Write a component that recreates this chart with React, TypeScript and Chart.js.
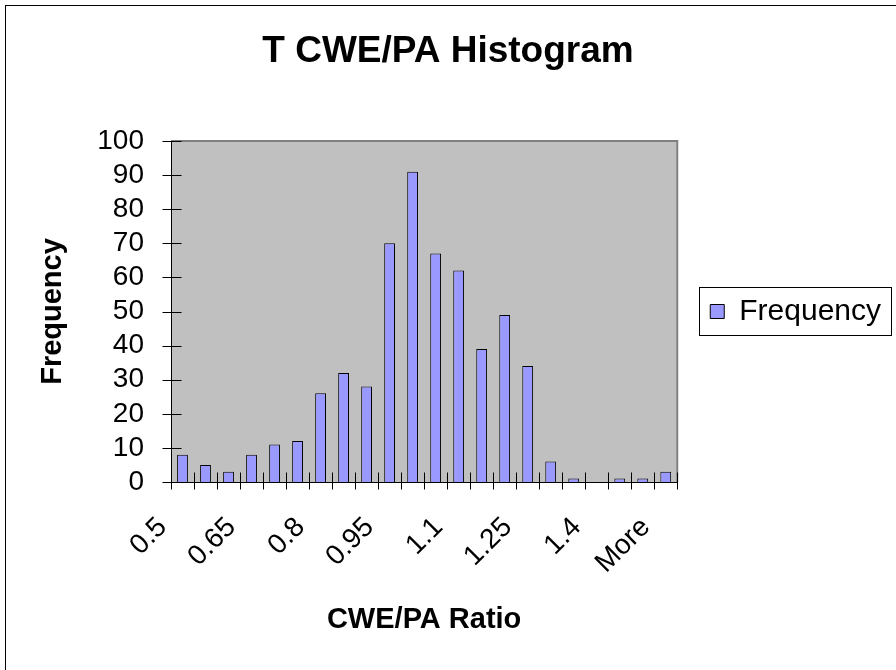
import React, { useEffect, useRef } from 'react';
import { Chart, registerables } from 'chart.js';

Chart.register(...registerables);

// ---- data ----
const bins = ['0.5', '0.55', '0.6', '0.65', '0.7', '0.75', '0.8', '0.85', '0.9', '0.95', '1', '1.05', '1.1', '1.15', '1.2', '1.25', '1.3', '1.35', '1.4', '1.45', '1.5', 'More'];
const frequency = [8, 5, 3, 8, 11, 12, 26, 32, 28, 70, 91, 67, 62, 39, 49, 34, 6, 1, 0, 1, 1, 3];
const shownBinLabels = ['0.5', '0.65', '0.8', '0.95', '1.1', '1.25', '1.4', 'More'];
const yMin = 0;
const yMax = 100;
const yStep = 10;

const chartTitle = 'T CWE/PA Histogram';
const xTitle = 'CWE/PA Ratio';
const yTitle = 'Frequency';
const seriesName = 'Frequency';

const FONT = "'Liberation Sans', Arial, Helvetica, sans-serif";

const excelPlugin = {
  id: 'excelLook',
  beforeDraw(chart: any) {
    const { ctx, chartArea, width, height } = chart;
    ctx.save();
    ctx.fillStyle = '#ffffff';
    ctx.fillRect(0, 0, width, height);
    // outer chart frame
    ctx.strokeStyle = '#000000';
    ctx.lineWidth = 1;
    ctx.strokeRect(5.5, 5.5, width + 20, height + 20);
    // plot area
    ctx.fillStyle = '#C0C0C0';
    ctx.fillRect(chartArea.left, chartArea.top, chartArea.right - chartArea.left, chartArea.bottom - chartArea.top);
    ctx.restore();
  },
  afterDatasetsDraw(chart: any) {
    const { ctx, chartArea } = chart;
    const xs = chart.scales.x;
    const ys = chart.scales.y;
    ctx.save();
    // plot border top/right (gray)
    ctx.strokeStyle = '#808080';
    ctx.lineWidth = 2;
    ctx.beginPath();
    ctx.moveTo(chartArea.left, chartArea.top);
    ctx.lineTo(chartArea.right, chartArea.top);
    ctx.lineTo(chartArea.right, chartArea.bottom);
    ctx.stroke();
    // axes
    ctx.strokeStyle = '#000000';
    ctx.lineWidth = 1;
    const L = Math.round(chartArea.left) + 0.5;
    const B = Math.round(chartArea.bottom) + 0.5;
    ctx.beginPath();
    ctx.moveTo(L, chartArea.top);
    ctx.lineTo(L, B);
    ctx.lineTo(chartArea.right, B);
    ctx.stroke();
    // y cross ticks
    ctx.beginPath();
    ys.ticks.forEach((t: any) => {
      const py = Math.round(ys.getPixelForValue(t.value)) + 0.5;
      ctx.moveTo(L - 9, py);
      ctx.lineTo(L + 10, py);
    });
    // x cross ticks at category boundaries
    const n = bins.length;
    const half = (xs.getPixelForValue(1) - xs.getPixelForValue(0)) / 2;
    for (let i = 0; i <= n; i++) {
      const px = Math.round(i < n ? xs.getPixelForValue(i) - half : xs.getPixelForValue(n - 1) + half) + 0.5;
      ctx.moveTo(px, B - 10);
      ctx.lineTo(px, B + 7);
    }
    ctx.stroke();
    ctx.restore();
  },
  afterDraw(chart: any) {
    const lg = chart.legend;
    if (!lg || !lg.legendHitBoxes || !lg.legendHitBoxes.length) return;
    const hb = lg.legendHitBoxes[0];
    const { ctx } = chart;
    ctx.save();
    ctx.strokeStyle = '#000000';
    ctx.lineWidth = 1;
    const x0 = Math.round(hb.left - 11) + 0.5;
    const y0 = Math.round(hb.top - 10) + 0.5;
    const x1 = Math.round(hb.left + hb.width + 10) + 0.5;
    const y1 = Math.round(hb.top + hb.height + 8) + 0.5;
    ctx.strokeRect(x0, y0, x1 - x0, y1 - y0);
    ctx.restore();
  },
};

export default function App() {
  const canvasRef = useRef<HTMLCanvasElement | null>(null);

  useEffect(() => {
    document.body.style.margin = '0';
    const canvas = canvasRef.current;
    if (!canvas) return;
    const chart = new Chart(canvas, {
      type: 'bar',
      data: {
        labels: bins,
        datasets: [
          {
            label: seriesName,
            data: frequency,
            backgroundColor: '#9999FF',
            borderColor: '#000000',
            borderWidth: 1,
            barPercentage: 0.47,
            categoryPercentage: 1.0,
          },
        ],
      },
      options: {
        animation: false,
        responsive: true,
        maintainAspectRatio: false,
        layout: { padding: { left: 5, right: 5, top: 0, bottom: 0 } },
        plugins: {
          tooltip: { enabled: false },
          title: {
            display: true,
            text: chartTitle,
            color: '#000000',
            font: { family: FONT, size: 37, weight: 'bold', lineHeight: 1.2 },
            padding: { top: 30, bottom: 66.6 },
          },
          legend: {
            display: true,
            position: 'right',
            fullSize: false,
            labels: {
              color: '#000000',
              font: { family: FONT, size: 30 },
              boxWidth: 14,
              boxHeight: 14,
              padding: 33,
            },
          },
        },
        scales: {
          x: {
            grid: { display: false, drawTicks: false },
            border: { display: false },
            ticks: {
              autoSkip: false,
              maxRotation: 45,
              minRotation: 45,
              padding: 29,
              labelOffset: -20,
              color: '#000000',
              font: { family: FONT, size: 28 },
              callback: (_v: any, i: number) => (shownBinLabels.includes(bins[i]) ? bins[i] : ''),
            },
            title: {
              display: true,
              text: xTitle,
              color: '#000000',
              font: { family: FONT, size: 29, weight: 'bold', lineHeight: 1.2 },
              padding: { top: 0, bottom: 32.6 },
            },
            afterFit: (s: any) => {
              s.height = 188;
            },
          },
          y: {
            min: yMin,
            max: yMax,
            grid: { display: false, drawTicks: false },
            border: { display: false },
            ticks: {
              stepSize: yStep,
              autoSkip: false,
              padding: 27,
              color: '#000000',
              font: { family: FONT, size: 28 },
            },
            title: {
              display: true,
              text: yTitle,
              color: '#000000',
              font: { family: FONT, size: 29, weight: 'bold', lineHeight: 1.2 },
              padding: { top: 30.6, bottom: 0 },
            },
            afterFit: (s: any) => {
              s.width = 166;
            },
          },
        },
      },
      plugins: [excelPlugin],
    });
    return () => chart.destroy();
  }, []);

  return (
    <div style={{ width: 896, height: 670, position: 'relative' }}>
      <canvas ref={canvasRef} />
    </div>
  );
}
